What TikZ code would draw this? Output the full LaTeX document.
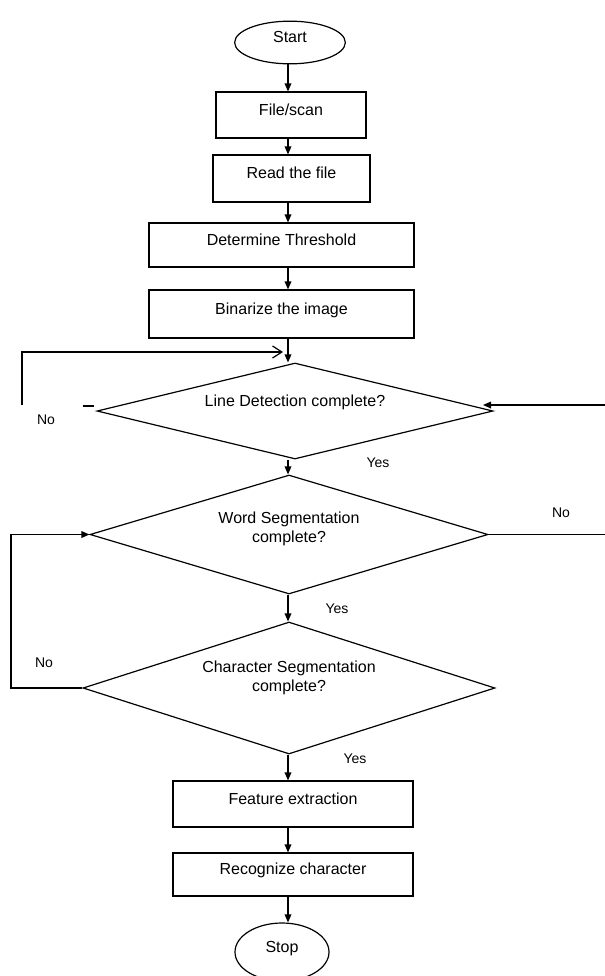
\documentclass[tikz,border=0pt]{standalone}
\usepackage{fontspec}
\setmainfont{Liberation Sans}
\usetikzlibrary{shapes.geometric,arrows.meta}
\tikzset{
	box/.style={draw, rectangle, inner sep=0pt, text height=8pt, text depth=8pt},
	term/.style={draw, ellipse, inner sep=0pt, text height=8pt, text depth=8pt},
	decision/.style={draw, diamond, inner sep=0pt},
	dtext/.style={align=center, inner sep=0pt},
	lbl/.style={font=\fontsize{10.5}{12}\selectfont},
	arr/.style={-{Triangle[length=6pt,width=5pt]}},
	openarr/.style={-{Straight Barb[length=7pt,width=9pt]}}
}
\begin{document}
\begin{tikzpicture}[x=0.75pt, y=-0.75pt, line width=0.9pt, font=\fontsize{12}{14}\selectfont]
		\useasboundingbox (0,0) rectangle (605,976);
		\coordinate (axis) at (288,0);
		\node (start) at (290,42.5)[term, minimum width=83pt, minimum height=32pt]{Start};
		\node (scan) at (291,115)[box, minimum width=112.5pt, minimum height=34.5pt]{File/scan};
		\node (read) at (291.5,178.5)[box, minimum width=117.75pt, minimum height=35.25pt]{Read the file};
		\node (thresh) at (281.5,245)[box, minimum width=198.75pt, minimum height=33pt]{Determine Threshold};
		\node (binar) at (281.5,314)[box, minimum width=198.75pt, minimum height=36pt]{Binarize the image};
		\node (d1) at (295,411)[decision, minimum width=297pt, minimum height=72pt]{};
		\node (d1t) at (295,402)[dtext]{Line Detection complete?};
		\node (d2) at (289,534.5)[decision, minimum width=298.5pt, minimum height=89.25pt]{};
		\node (d2t) at (289,529)[dtext]{Word Segmentation\\complete?};
		\node (d3) at (289,688)[decision, minimum width=309pt, minimum height=99pt]{};
		\node (d3t) at (289,678)[dtext]{Character Segmentation\\complete?};
		\node (feat) at (293,804)[box, minimum width=180pt, minimum height=34.5pt]{Feature extraction};
		\node (recog) at (293,874.5)[box, minimum width=180pt, minimum height=32.25pt]{Recognize character};
		\node (stop) at (282,952)[term, minimum width=70.5pt, minimum height=43.5pt]{Stop};
		\node (no1) at (46,420)[lbl]{No};
		\node (yes1) at (378,463)[lbl]{Yes};
		\node (no2) at (561,513)[lbl]{No};
		\node (yes2) at (337,609)[lbl]{Yes};
		\node (no3) at (44,663)[lbl]{No};
		\node (yes3) at (355,759)[lbl]{Yes};
		\draw[arr] (start.south -| axis) -- (scan.north -| axis);
		\draw[arr] (scan.south -| axis) -- (read.north -| axis);
		\draw[arr] (read.south -| axis) -- (thresh.north -| axis);
		\draw[arr] (thresh.south -| axis) -- (binar.north -| axis);
		\draw[arr] (binar.south -| axis) -- (d1.north -| axis);
		\draw[arr] (d1.south -| axis) -- (d2.north -| axis);
		\draw[arr] (d2.south -| axis) -- (d3.north -| axis);
		\draw[arr] (d3.south -| axis) -- (feat.north -| axis);
		\draw[arr] (feat.south -| axis) -- (recog.north -| axis);
		\draw[arr] (recog.south -| axis) -- (stop.north -| axis);
		\coordinate (l1a) at (22,405);
		\coordinate (l1b) at (283,352);
		\draw[openarr] (l1a) |- (l1b);
		\coordinate (dsa) at (83,406);
		\coordinate (dsb) at (94,406);
		\draw (dsa) -- (dsb);
		\coordinate (r1a) at (605,405);
		\coordinate (r1b) at (483,405);
		\draw[arr] (r1a) -- (r1b);
		\coordinate (r2) at (605,534.5);
		\draw (d2.east) -- (r2);
		\coordinate (l3) at (11,688);
		\draw[arr] (d3.west) -- (l3) |- (d2.west);
	\end{tikzpicture}
\end{document}
